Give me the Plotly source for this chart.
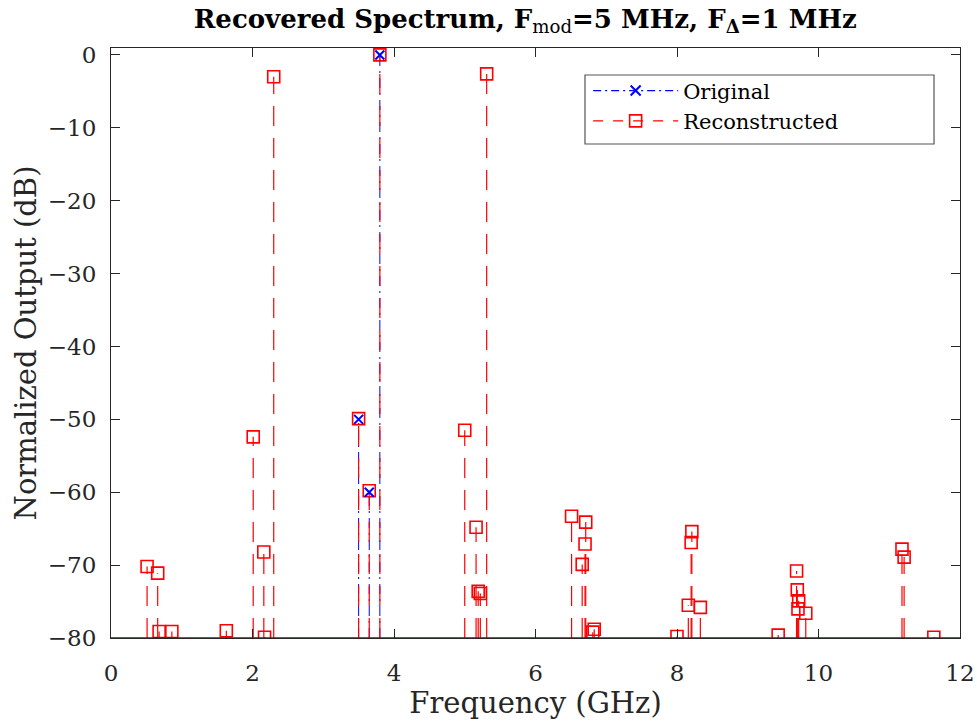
import plotly.graph_objects as go

# ---- data ----
orig_freq = [3.50, 3.65, 3.80]
orig_db = [-50.0, -60.0, 0.0]

rec_freq = [0.51, 0.66, 0.68, 0.86, 1.63, 2.01, 2.16, 2.17, 2.30,
            3.50, 3.65, 3.80,
            5.00, 5.16, 5.19, 5.22, 5.31,
            6.51, 6.66, 6.70, 6.71, 6.81, 6.83,
            8.00, 8.16, 8.20, 8.21, 8.33,
            9.43, 9.69, 9.70, 9.71, 9.72, 9.82,
            11.18, 11.21, 11.63]
rec_db = [-70.2, -71.1, -79.1, -79.1, -79.0, -52.4, -68.2, -79.9, -3.0,
          -49.9, -59.8, 0.0,
          -51.5, -64.8, -73.6, -73.9, -2.6,
          -63.3, -69.9, -67.1, -64.1, -79.2, -78.8,
          -79.8, -75.5, -66.9, -65.4, -75.8,
          -79.6, -70.8, -73.4, -76.0, -74.9, -76.6,
          -67.8, -68.9, -79.9]

baseline = -80
x_ticks = [0, 2, 4, 6, 8, 10, 12]
y_ticks = [0, -10, -20, -30, -40, -50, -60, -70, -80]
y_tick_text = ["0", "\u221210", "\u221220", "\u221230", "\u221240",
               "\u221250", "\u221260", "\u221270", "\u221280"]


def stems(xs, ys, base):
    sx, sy = [], []
    for x, y in zip(xs, ys):
        sx += [x, x, None]
        sy += [base, y, None]
    return sx, sy


FONT = "DejaVu Serif"
TXT = "#262626"
BLUE_DASH = "10px,5px,2px,5px"
RED_DASH = "20px,12px"

fig = go.Figure()

ox, oy = stems(orig_freq, orig_db, baseline)
rx, ry = stems(rec_freq, rec_db, baseline)

# stems (lines) - blue first, red on top
fig.add_trace(go.Scatter(x=ox, y=oy, mode="lines", showlegend=False,
                         line=dict(color="blue", width=1, dash=BLUE_DASH),
                         hoverinfo="skip"))
fig.add_trace(go.Scatter(x=rx, y=ry, mode="lines", showlegend=False,
                         line=dict(color="red", width=1.2, dash=RED_DASH),
                         hoverinfo="skip"))

# markers
fig.add_trace(go.Scatter(x=rec_freq, y=rec_db, mode="markers", showlegend=False,
                         marker=dict(symbol="square-open", size=12, color="red",
                                     line=dict(color="red", width=1.6))))
fig.add_trace(go.Scatter(x=orig_freq, y=orig_db, mode="markers", showlegend=False,
                         marker=dict(symbol="x-thin-open", size=9, color="blue",
                                     line=dict(color="blue", width=2))))

# legend entries
fig.add_trace(go.Scatter(x=[None], y=[None], mode="lines+markers", name="Original",
                         line=dict(color="blue", width=1.2, dash="8px,4px,2px,4px"),
                         marker=dict(symbol="x-thin-open", size=10, color="blue",
                                     line=dict(color="blue", width=2))))
fig.add_trace(go.Scatter(x=[None], y=[None], mode="lines+markers", name="Reconstructed",
                         line=dict(color="red", width=1.2, dash="10px,10px"),
                         marker=dict(symbol="square-open", size=12, color="red",
                                     line=dict(color="red", width=1.6))))

# stem baseline
fig.add_shape(type="line", xref="x", yref="y", x0=0, x1=12, y0=baseline, y1=baseline,
              line=dict(color="#1c1c9c", width=1.5), layer="above")

# legend frame (MATLAB-style wide box)
fig.add_shape(type="rect", xref="paper", yref="paper",
              x0=0.5583, x1=0.9694, y0=0.8373, y1=0.9542,
              line=dict(color="#555555", width=1.2), fillcolor="white", layer="above")

fig.update_layout(
    width=977, height=727,
    margin=dict(l=111, r=17, t=48, b=89),
    plot_bgcolor="white", paper_bgcolor="white",
    font=dict(family=FONT, color=TXT, size=18),
    title=dict(text="<b>Recovered Spectrum, F</b><sub>mod</sub><b>=5 MHz, F</b><sub><b>\u0394</b></sub><b>=1 MHz</b>",
               xref="paper", x=0.488, xanchor="center",
               yref="container", y=0.962, yanchor="bottom",
               font=dict(family=FONT, size=26, color="black")),
    xaxis=dict(range=[0, 12], tickvals=x_ticks, ticks="inside", ticklen=9,
               tickcolor=TXT, showline=True, linecolor=TXT, linewidth=1,
               mirror="ticks", showgrid=False, zeroline=False, automargin=False,
               ticklabelstandoff=14,
               tickfont=dict(size=23, color=TXT),
               title=dict(text="Frequency (GHz)", font=dict(size=29, color=TXT), standoff=4)),
    yaxis=dict(range=[-80, 0.95], tickvals=y_ticks, ticktext=y_tick_text,
               ticks="inside", ticklen=9, tickcolor=TXT, showline=True,
               linecolor=TXT, linewidth=1, mirror="ticks", showgrid=False,
               zeroline=False, automargin=False, ticklabelstandoff=9,
               tickfont=dict(size=23, color=TXT),
               title=dict(text="Normalized Output (dB)", font=dict(size=29, color=TXT), standoff=2)),
    legend=dict(x=0.562, y=0.962, xanchor="left", yanchor="top",
                bgcolor="rgba(0,0,0,0)", borderwidth=0,
                font=dict(size=21, color="black"), tracegroupgap=0,
                itemwidth=85),
)

fig.write_html(
    "out.html",
    config={"displayModeBar": False},
    post_script="document.body.style.margin='0';document.body.style.overflow='hidden';",
)
